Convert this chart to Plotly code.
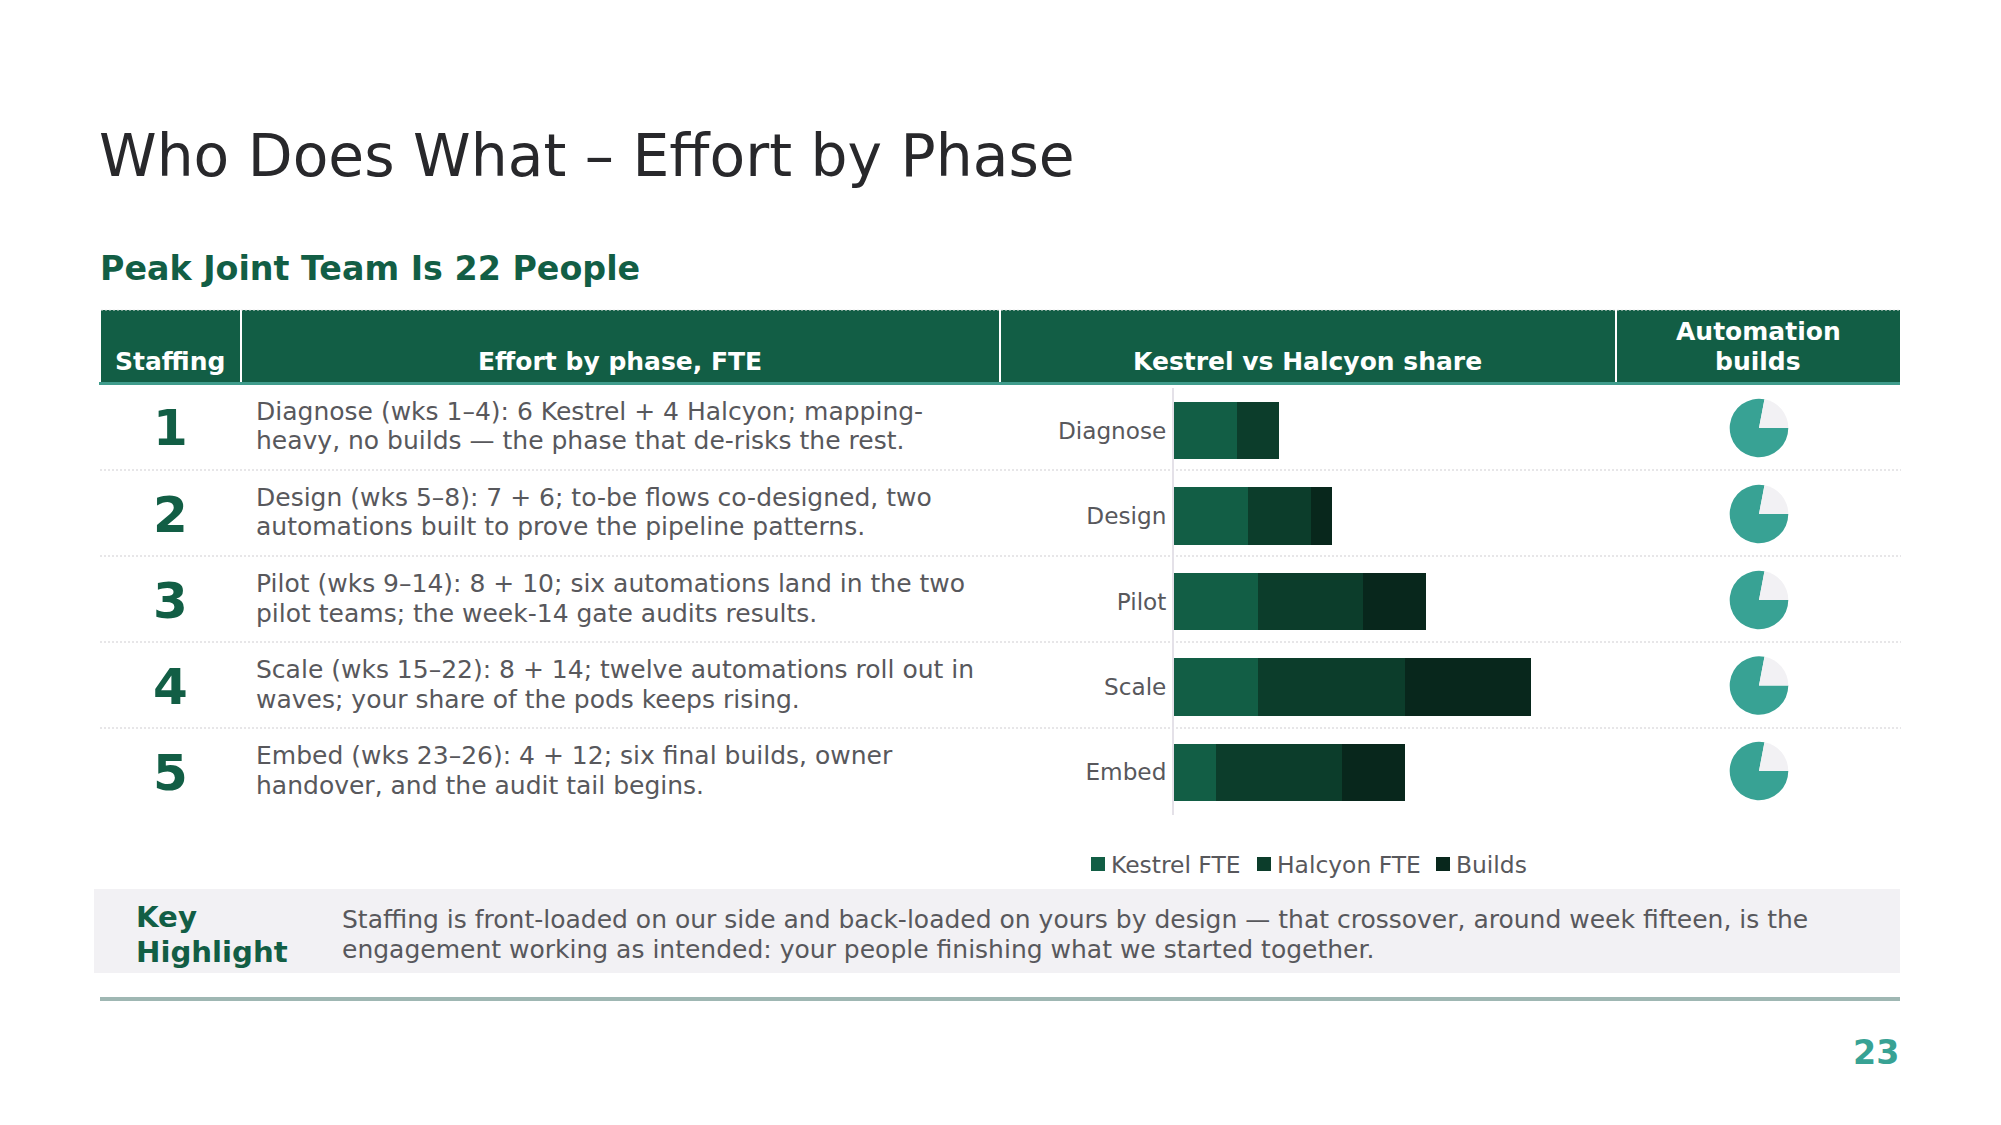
import plotly.graph_objects as go

W, H = 2001, 1125
FONT = "DejaVu Sans"

# ---------- data ----------
phases = ["Diagnose", "Design", "Pilot", "Scale", "Embed"]
kestrel_fte = [6, 7, 8, 8, 4]
halcyon_fte = [4, 6, 10, 14, 12]
builds = [0, 2, 6, 12, 6]
build_share_filled = [78, 78, 78, 78, 78]
build_share_rest = [22, 22, 22, 22, 22]
row_numbers = ["1", "2", "3", "4", "5"]
row_line_1 = [
    "Diagnose (wks 1–4): 6 Kestrel + 4 Halcyon; mapping-",
    "Design (wks 5–8): 7 + 6; to-be flows co-designed, two",
    "Pilot (wks 9–14): 8 + 10; six automations land in the two",
    "Scale (wks 15–22): 8 + 14; twelve automations roll out in",
    "Embed (wks 23–26): 4 + 12; six final builds, owner",
]
row_line_2 = [
    "heavy, no builds — the phase that de-risks the rest.",
    "automations built to prove the pipeline patterns.",
    "pilot teams; the week-14 gate audits results.",
    "waves; your share of the pods keeps rising.",
    "handover, and the audit tail begins.",
]
series_names = ["Kestrel FTE", "Halcyon FTE", "Builds"]
title_text = "Who Does What – Effort by Phase"
subtitle_text = "Peak Joint Team Is 22 People"
highlight_lines = [
    "Staffing is front-loaded on our side and back-loaded on yours by design — that crossover, around week fifteen, is the",
    "engagement working as intended: your people finishing what we started together.",
]

# ---------- colours ----------
C_K, C_H, C_B = "#125E45", "#0C3D2B", "#08271C"
C_TEAL, C_GREY = "#38A294", "#F2F1F4"
C_TEXT, C_TITLE = "#58585C", "#28282B"
C_DOT = "#CFCDD2"


def px(x):
    return x / W


def py(y):
    return 1 - y / H


fig = go.Figure()
for name, vals, col in zip(series_names, [kestrel_fte, halcyon_fte, builds], [C_K, C_H, C_B]):
    fig.add_trace(go.Bar(y=phases, x=vals, name=name, orientation="h",
                         marker=dict(color=col, line=dict(width=0)), showlegend=False))

pie_cy = [428, 514, 600, 685.5, 771]
R = 29.3
for i, (a, b) in enumerate(zip(build_share_filled, build_share_rest)):
    fig.add_trace(go.Pie(values=[a, b], labels=["Built", "Remaining"], sort=False,
                         direction="clockwise", rotation=90, textinfo="none", hoverinfo="skip",
                         marker=dict(colors=[C_TEAL, C_GREY], line=dict(width=0)), showlegend=False,
                         domain=dict(x=[px(1759 - R), px(1759 + R)],
                                     y=[py(pie_cy[i] + R), py(pie_cy[i] - R)])))

shapes = []


def rect(x0, y0, x1, y1, color, layer="below"):
    shapes.append(dict(type="rect", xref="paper", yref="paper", x0=px(x0), x1=px(x1), y0=py(y0), y1=py(y1),
                       fillcolor=color, line=dict(width=0), layer=layer))


def hline(x0, x1, y, color, width=1, dash=None, layer="below"):
    shapes.append(dict(type="line", xref="paper", yref="paper", x0=px(x0), x1=px(x1), y0=py(y), y1=py(y),
                       line=dict(color=color, width=width, dash=dash or "solid"), layer=layer))


rect(101, 310, 1900, 382, C_K)
rect(99, 382, 1900, 385, "#3F9C8C")
for xs in (241, 1000, 1616):
    rect(xs - 1, 310, xs + 1, 382, "#FFFFFF")
hline(101, 1900, 310, "#E8E8E8", 1, "2px,2px", "above")
for y in (470, 556, 642, 728):
    hline(100, 1901, y, C_DOT, 1.2, "2px,2px")
rect(94, 889, 1900, 973, C_GREY)
rect(100, 997, 1900, 1001, "#9FB7B3")

annots = []


def text(x, base, s, size, color=C_TEXT, bold=False, anchor="left"):
    annots.append(dict(xref="paper", yref="paper", x=px(x), y=py(base - 0.346 * size), text=s, showarrow=False,
                       xanchor=anchor, yanchor="middle", borderpad=0,
                       font=dict(family=FONT, size=size, color=color, weight=700 if bold else 400)))


text(97.5, 176.5, title_text, 58.3, C_TITLE)
text(98.5, 280.5, subtitle_text, 33.3, C_K, True)
WHITE = "#FFFFFF"
text(170, 370, "Staffing", 25, WHITE, True, "center")
text(620, 370, "Effort by phase, FTE", 25, WHITE, True, "center")
text(1307.5, 370, "Kestrel vs Halcyon share", 25, WHITE, True, "center")
text(1758, 340, "Automation", 25, WHITE, True, "center")
text(1758, 370, "builds", 25, WHITE, True, "center")
for i in range(5):
    text(170, 445.8 + 86.1 * i, row_numbers[i], 50, C_K, True, "center")
    text(254.5, 420 + 86.1 * i, row_line_1[i], 25, C_TEXT)
    text(254.5, 449.5 + 86.1 * i, row_line_2[i], 25, C_TEXT)
text(134.5, 927, "Key", 29.2, C_K, True)
text(134.5, 962, "Highlight", 29.2, C_K, True)
text(341, 928, highlight_lines[0], 25, C_TEXT)
text(341, 958, highlight_lines[1], 25, C_TEXT)
text(1900, 1064.5, "23", 33.3, C_TEAL, True, "right")

for sx, tx, name, col in zip((1091, 1257, 1436), (1109.5, 1275.5, 1454.5), series_names, (C_K, C_H, C_B)):
    rect(sx, 857, sx + 14, 871, col, "above")
    text(tx, 873, name, 23.4, C_TEXT)

fig.update_layout(
    width=W, height=H, margin=dict(l=0, r=0, t=0, b=0, autoexpand=False),
    paper_bgcolor="#FFFFFF", plot_bgcolor="rgba(0,0,0,0)", barmode="stack", bargap=0.327,
    shapes=shapes, annotations=annots, showlegend=False,
    xaxis=dict(domain=[px(1174), px(1174 + 420)], range=[0, 40], visible=False, fixedrange=True),
    yaxis=dict(domain=[py(815), py(388)], autorange="reversed", type="category", showline=True,
               linecolor="#E4E1E8", linewidth=2, ticks="outside", ticklen=1, tickcolor="rgba(0,0,0,0)",
               tickfont=dict(family=FONT, size=23.2, color=C_TEXT), showgrid=False, fixedrange=True),
    font=dict(family=FONT),
)
fig.write_html("out.html", config={"displayModeBar": False},
               post_script="document.body.style.margin='0';document.body.style.overflow='hidden';")
